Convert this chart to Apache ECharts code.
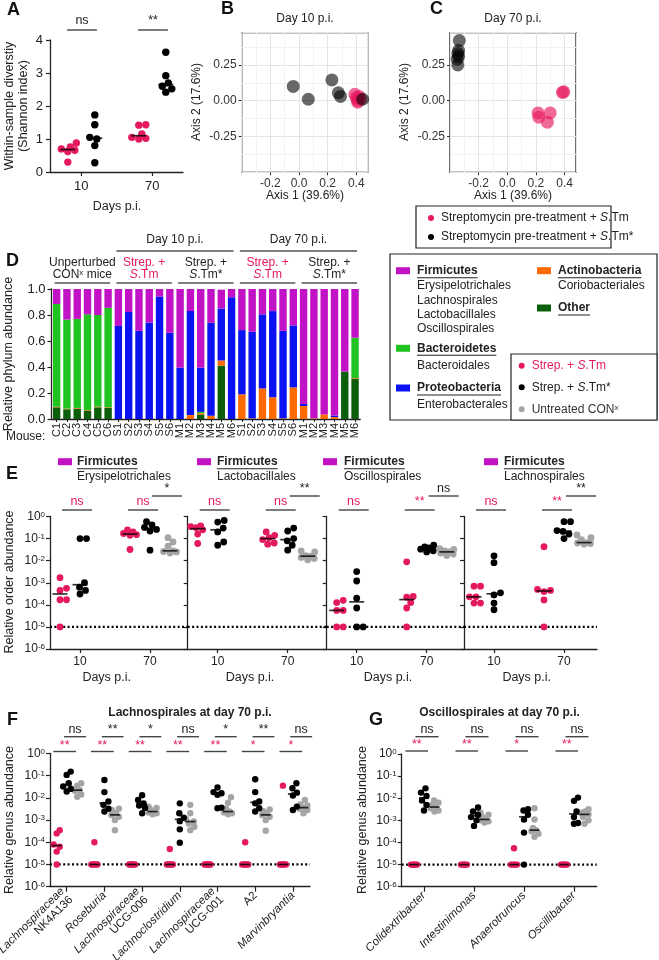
<!DOCTYPE html>
<html><head><meta charset="utf-8">
<script src="https://cdn.jsdelivr.net/npm/echarts@6/dist/echarts.min.js"></script>
<style>html,body{margin:0;padding:0;background:#fff}#c{width:659px;height:960px}</style>
</head><body><div id="c"></div>
<script>
const PINK='#E5195E', GRAY='#A5A5A5', INK='#222';
const FONT='"Liberation Sans", Arial, Helvetica, sans-serif';

// ---------- Panel A : Shannon index ----------
const aDays=['10','70'];
const aPink10=[0.30,0.62,0.66,0.70,0.76,0.88];
const aBlack10=[0.28,0.80,1.00,1.05,1.43,1.73];
const aPink70=[1.00,1.02,1.05,1.15,1.42,1.43];
const aBlack70=[2.42,2.52,2.60,2.70,2.92,3.63];
const aSig=['ns','**'];

// ---------- Panels B / C : PCoA ----------
const bStmX=[0.39,0.41,0.42,0.40,0.43,0.41];
const bStmY=[0.045,0.0,0.03,0.02,0.01,-0.01];
const bStarX=[-0.04,0.065,0.23,0.275,0.29,0.445];
const bStarY=[0.10,0.01,0.145,0.055,0.03,0.01];
const cStmX=[0.385,0.395,0.215,0.30,0.22,0.28];
const cStmY=[0.058,0.062,-0.085,-0.085,-0.115,-0.15];
const cStarX=[-0.335,-0.34,-0.345,-0.34,-0.35,-0.345];
const cStarY=[0.42,0.35,0.33,0.31,0.29,0.25];

// ---------- Panel D : phylum bars ----------
const mouseLabels=['C1','C2','C3','C4','C5','C6','S1','S2','S3','S4','S5','S6','M1','M2','M3','M4','M5','M6','S1','S2','S3','S4','S5','S6','M1','M2','M3','M4','M5','M6'];
const dOther=[0.09,0.075,0.08,0.065,0.09,0.085, 0,0,0,0,0,0, 0,0,0.035,0,0.41,0, 0,0,0,0,0,0, 0,0,0,0,0.365,0.31];
const dActino=[0.005,0.005,0.005,0.005,0.005,0.005, 0,0,0,0,0,0, 0,0.03,0.01,0.025,0.04,0, 0.19,0.005,0.235,0.167,0.005,0.243, 0.10,0.005,0.035,0.015,0,0.005];
const dBacteroidetes=[0.79,0.685,0.685,0.735,0.705,0.765, 0,0,0,0,0,0, 0,0,0.01,0,0,0, 0,0,0,0,0,0, 0,0,0,0,0,0.31];
const dProteo=[0,0,0,0,0,0, 0.716,0.823,0.678,0.742,0.942,0.663, 0.395,0.80,0.34,0.715,0.40,0.937, 0.494,0.666,0.57,0.663,0.673,0.477, 0.015,0,0,0.012,0,0];
const dFirm=[0.115,0.235,0.23,0.195,0.2,0.145, 0.284,0.177,0.322,0.258,0.058,0.337, 0.605,0.17,0.605,0.26,0.145,0.063, 0.316,0.329,0.195,0.17,0.322,0.28, 0.885,0.995,0.965,0.973,0.635,0.375];

// ---------- Panel E : order abundance ----------
const eOrders=['Erysipelotrichales','Lactobacillales','Oscillospirales','Lachnospirales'];
const ePink10=[[1e-5,1.7e-4,1.7e-4,4.5e-4,5.6e-4,1.7e-3],[0.06,0.16,0.25,0.31,0.35,0.38],[1e-5,1e-5,5.6e-5,5.6e-5,1.26e-4,1.6e-4],[1.2e-4,1.2e-4,2.3e-4,2.3e-4,7e-4,7e-4]];
const eBlack10=[[3.1e-4,4.5e-4,6.3e-4,1.0e-3,0.1,0.1],[0.05,0.07,0.2,0.3,0.56,0.66],[1e-5,1e-5,7.2e-5,2.0e-4,1.2e-3,3.2e-3],[6e-5,1.2e-4,2.8e-4,3.5e-4,8.1e-3,0.0166]];
const ePink70=[[0.032,0.14,0.15,0.17,0.2,0.25],[0.056,0.063,0.09,0.11,0.14,0.2],[1e-5,7.2e-5,1.26e-4,2.2e-4,2.4e-4,8.9e-3],[1e-5,1.66e-4,4e-4,4.5e-4,5e-4,0.043]];
const eBlack70=[[0.03,0.22,0.26,0.32,0.42,0.58],[0.03,0.05,0.079,0.1,0.22,0.3],[0.025,0.028,0.033,0.038,0.042,0.05],[0.1,0.16,0.21,0.23,0.58,0.58]];
const eGray70=[[0.022,0.025,0.026,0.028,0.045,0.07,0.11],[0.011,0.0126,0.014,0.016,0.017,0.025,0.028],[0.017,0.02,0.022,0.025,0.028,0.032,0.035],[0.056,0.06,0.063,0.066,0.089,0.11,0.145]];
const eSigDay10=['ns','ns','ns','ns'];
const eSigPink70=['ns','ns','**','**'];
const eSigBlack70=['*','**','ns','**'];

// ---------- Panel F : Lachnospirales genera ----------
const fGenera=['Lachnospiraceae NK4A136','Roseburia','Lachnospiraceae UCG-006','Lachnoclostridium','Lachnospiraceae UCG-001','A2','Marvinbryantia'];
const fPink=[[1e-5,3.8e-5,6.3e-5,7.9e-5,2.5e-4,3.5e-4],[1e-5,1e-5,1e-5,1e-5,1e-5,1e-4],[1e-5,1e-5,1e-5,1e-5,1e-5,1e-5],[1e-5,1e-5,1e-5,1e-5,1e-5,5e-5],[1e-5,1e-5,1e-5,1e-5,1e-5,1e-5],[1e-5,1e-5,1e-5,1e-5,1e-5,1e-4],[1e-5,1e-5,1e-5,1e-5,1e-5,0.035]];
const fBlack=[[0.019,0.025,0.032,0.045,0.107,0.15],[0.0024,0.0032,0.0048,0.0068,0.018,0.063],[0.002,0.0035,0.0045,0.0056,0.008,0.013],[9.5e-5,3.8e-4,8.9e-4,1.26e-3,2e-3,5.6e-3],[3.4e-3,3.6e-3,0.0135,0.016,0.018,0.029],[2.4e-3,3.4e-3,5.6e-3,6.8e-3,0.018,0.068],[2.8e-3,4e-3,0.0126,0.017,0.027,0.045]];
const fGray=[[0.011,0.014,0.02,0.022,0.025,0.035,0.045],[3.5e-4,1e-3,1.4e-3,1.7e-3,2e-3,2.8e-3,3.2e-3],[1.8e-3,2e-3,2.2e-3,2.4e-3,2.8e-3,3.5e-3,4e-3],[3.5e-4,5e-4,7e-4,8.5e-4,1.1e-3,2e-3,4.8e-3],[1.8e-3,2e-3,2.2e-3,2.4e-3,3.2e-3,6e-3,0.0105],[3.3e-4,1e-3,1.4e-3,1.7e-3,2e-3,2.5e-3,3e-3],[2e-3,2.8e-3,3.2e-3,3.6e-3,4.5e-3,5e-3,8e-3]];
const fSigPink=['**','**','**','**','**','*','*'];
const fSigBlack=['ns','**','*','ns','*','**','ns'];

// ---------- Panel G : Oscillospirales genera ----------
const gGenera=['Colidextribacter','Intestinimonas','Anaerotruncus','Oscillibacter'];
const gPink=[[1e-5,1e-5,1e-5,1e-5,1e-5,1e-5],[1e-5,1e-5,1e-5,1e-5,1e-5,1e-5],[1e-5,1e-5,1e-5,1e-5,1e-5,5.5e-5],[1e-5,1e-5,1e-5,1e-5,1e-5,1e-5]];
const gBlack=[[2.8e-3,5e-3,8e-3,0.0126,0.018,0.028],[5.6e-4,1e-3,1.4e-3,1.8e-3,2.5e-3,3.8e-3],[1e-5,2.8e-4,1.1e-3,1.8e-3,2.8e-3,3.2e-3],[7e-4,7.6e-4,1.4e-3,2.5e-3,7.6e-3,0.0107]];
const gGray=[[2.5e-3,2.8e-3,3.5e-3,4e-3,5e-3,6.3e-3,8e-3],[8e-4,9e-4,1e-3,1.1e-3,1.4e-3,1.8e-3,2.2e-3],[1.8e-4,2.5e-4,3.2e-4,3.6e-4,4.5e-4,1.1e-3,3.5e-3],[7e-4,1e-3,1.4e-3,1.86e-3,2.2e-3,2.5e-3,3.2e-3]];
const gSigPink=['**','**','*','**'];
const gSigBlack=['ns','ns','ns','ns'];
const detectionLimit=1e-5;

// ================= helpers =================
function median(a){const s=[...a].sort((x,y)=>x-y);const n=s.length;return n%2?s[(n-1)/2]:(s[n/2-1]+s[n/2])/2;}
function swarm(vals,toPx,r,maxOff){
  const order=vals.map((v,i)=>i).sort((a,b)=>vals[a]-vals[b]);
  const cands=[0];for(let d=0.5;d<=maxOff+1e-9;d+=0.5){cands.push(d,-d);}
  const placed=[],out=new Array(vals.length),minD=2*r*0.95;
  for(const i of order){
    const y=toPx(vals[i]);let chosen=null,bx=0,bs=-1;
    for(const c of cands){let md=Infinity;for(const p of placed){const dd=Math.hypot(p.x-c,p.y-y);if(dd<md)md=dd;}
      if(md>=minD){chosen=c;break;} if(md>bs){bs=md;bx=c;}}
    if(chosen===null)chosen=bx;placed.push({x:chosen,y});out[i]=chosen;
  }
  return out;
}
const logPx=H=>v=>(Math.log10(v)+6)/6*H;

const series=[];
function addScatter(gi,color,data,size,z){series.push({type:'scatter',xAxisIndex:gi,yAxisIndex:gi,data,symbolSize:size,itemStyle:{color,opacity:1},z:z||3,silent:true});}
function addMed(gi,data,w){series.push({type:'scatter',xAxisIndex:gi,yAxisIndex:gi,data,symbol:'rect',symbolSize:[w,1.7],itemStyle:{color:'#000'},z:6,silent:true});}
function addRef(gi,xmin,xmax){series.push({type:'line',xAxisIndex:gi,yAxisIndex:gi,data:[[xmin,detectionLimit],[xmax,detectionLimit]],
  symbol:'none',z:2,silent:true,lineStyle:{type:[2,2.4],width:2.2,color:'#000'}});}
function grp(acc,meds,center,vals,toPx,ppu,r,maxOff){const o=swarm(vals,toPx,r,maxOff);vals.forEach((v,i)=>acc.push([center+o[i]/ppu,v]));meds.push([center,median(vals)]);}

const axLine={show:true,onZero:false,lineStyle:{color:INK,width:1.3}};
const axTick={show:true,length:4,lineStyle:{color:INK,width:1.2}};
const lbl=(o)=>Object.assign({color:INK,fontSize:12,fontFamily:FONT},o||{});
const logLabel=(show)=>({show,color:INK,fontFamily:FONT,margin:5,
  formatter:v=>'{b|10}{s|'+Math.round(Math.log10(v))+'}',
  rich:{b:{fontSize:12,fontFamily:FONT,color:INK},s:{fontSize:8,fontFamily:FONT,color:INK,verticalAlign:'top'}}});

const grids=[],xAxes=[],yAxes=[];
// ---- A (0)
{
  const L=50,T=40,W=133,H=132,ppu=71,min=1-31.3/71;
  grids.push({left:L,top:T,width:W,height:H});
  xAxes.push({gridIndex:0,type:'value',min,max:min+W/ppu,axisLine:axLine,splitLine:{show:false},
    axisTick:Object.assign({},axTick,{customValues:[1,2]}),
    axisLabel:lbl({fontSize:13,margin:8,customValues:[1,2],formatter:v=>aDays[Math.round(v)-1]})});
  yAxes.push({gridIndex:0,type:'value',min:0,max:4,interval:1,axisLine:axLine,axisTick:axTick,splitLine:{show:false},axisLabel:lbl({fontSize:13,margin:7})});
  const toPx=v=>v/4*H;const p=[],b=[],m=[];
  grp(p,m,1-0.19,aPink10,toPx,ppu,3.6,9);grp(b,m,1+0.19,aBlack10,toPx,ppu,3.6,9);
  grp(p,m,2-0.19,aPink70,toPx,ppu,3.6,9);grp(b,m,2+0.19,aBlack70,toPx,ppu,3.6,9);
  addScatter(0,PINK,p,7.4);addScatter(0,'#000',b,7.4);addMed(0,m,15);
}
// ---- B (1), C (2)
function pcoa(gi,L,sx,sy,kx,ky){
  grids.push({left:L,top:32.7,width:126,height:139.6,show:true,borderColor:'#111',borderWidth:1.2,backgroundColor:'#fff'});
  xAxes.push({gridIndex:gi,type:'value',min:-0.4,max:0.48,interval:0.2,axisLine:{show:false,onZero:false},
    axisTick:{show:true,length:3,lineStyle:{color:'#333'}},
    axisLabel:lbl({margin:5,color:'#333',showMinLabel:false,showMaxLabel:false,formatter:v=>(v<-0.35||v>0.45)?'':v.toFixed(1)}),
    splitLine:{show:true,lineStyle:{color:'#E4E4E4',width:1}},minorTick:{show:false,splitNumber:2},minorSplitLine:{show:true,lineStyle:{color:'#F2F2F2',width:1}}});
  yAxes.push({gridIndex:gi,type:'value',min:-0.5,max:0.475,interval:0.25,axisLine:{show:false,onZero:false},
    axisTick:{show:true,length:3,lineStyle:{color:'#333'}},
    axisLabel:lbl({margin:5,color:'#333',showMinLabel:false,showMaxLabel:false,formatter:v=>(v<-0.45||v>0.3)?'':v.toFixed(2)}),
    splitLine:{show:true,lineStyle:{color:'#E4E4E4',width:1}},minorTick:{show:false,splitNumber:2},minorSplitLine:{show:true,lineStyle:{color:'#F2F2F2',width:1}}});
  series.push({type:'scatter',xAxisIndex:gi,yAxisIndex:gi,data:sx.map((x,i)=>[x,sy[i]]),symbolSize:13,itemStyle:{color:'rgba(232,22,96,0.8)'},z:3,silent:true});
  series.push({type:'scatter',xAxisIndex:gi,yAxisIndex:gi,data:kx.map((x,i)=>[x,ky[i]]),symbolSize:13,itemStyle:{color:'rgba(0,0,0,0.74)'},z:4,silent:true});
}
pcoa(1,241.7,bStmX,bStmY,bStarX,bStarY);
pcoa(2,450,cStmX,cStmY,cStarX,cStarY);
// ---- D (3)
grids.push({left:51.5,top:289,width:308.7,height:130});
xAxes.push({gridIndex:3,type:'category',data:mouseLabels.map((m,i)=>i+':'+m),axisLine:axLine,
  axisTick:{show:true,alignWithLabel:true,length:3,lineStyle:{color:INK}},
  axisLabel:lbl({fontSize:11,rotate:90,interval:0,margin:4,formatter:v=>v.split(':')[1]})});
yAxes.push({gridIndex:3,type:'value',min:0,max:1,interval:0.2,axisLine:axLine,axisTick:axTick,splitLine:{show:false},axisLabel:lbl({fontSize:13,margin:6,formatter:v=>v.toFixed(1)})});
[[dOther,'#0B5F0B'],[dActino,'#FF6A00'],[dBacteroidetes,'#20C420'],[dProteo,'#0A12F2'],[dFirm,'#C212C6']].forEach(([d,c])=>{
  series.push({type:'bar',xAxisIndex:3,yAxisIndex:3,stack:'p',data:d,barWidth:7.4,itemStyle:{color:c},silent:true,z:2});
});
// ---- E (4..7)
const eL=[50,187.7,326.7,464],eW=[137.7,139,137.3,133],eT=516.5,eH=132.5;
for(let p=0;p<4;p++){
  const gi=4+p,ppu=20,xmax=-1.5+eW[p]/ppu;
  grids.push({left:eL[p],top:eT,width:eW[p],height:eH});
  xAxes.push({gridIndex:gi,type:'value',min:-1.5,max:xmax,axisLine:axLine,splitLine:{show:false},
    axisTick:Object.assign({},axTick,{customValues:[0,3.5]}),
    axisLabel:lbl({margin:7,customValues:[0,3.5],formatter:v=>v<1?'10':'70'})});
  yAxes.push({gridIndex:gi,type:'log',logBase:10,min:1e-6,max:1,interval:1,axisLine:axLine,axisTick:axTick,splitLine:{show:false},axisLabel:logLabel(p===0)});
  const toPx=logPx(eH),pk=[],bk=[],gy=[],m=[];
  grp(pk,m,-1,ePink10[p],toPx,ppu,3.4,7);grp(bk,m,0,eBlack10[p],toPx,ppu,3.4,7);
  grp(pk,m,2.5,ePink70[p],toPx,ppu,3.4,7);grp(bk,m,3.5,eBlack70[p],toPx,ppu,3.4,7);grp(gy,m,4.5,eGray70[p],toPx,ppu,3.4,7);
  addRef(gi,-1.5,xmax);addScatter(gi,GRAY,gy,6.8);addScatter(gi,PINK,pk,6.8);addScatter(gi,'#000',bk,6.8);addMed(gi,m,15);
}
// ---- F (8), G (9)
function genusLabel(name){
  if(name.indexOf('Lachnospiraceae ')===0)return '{i|Lachnospiraceae}\n{n|'+name.slice(16)+'}';
  if(name==='A2')return '{n|A2}';
  return '{i|'+name+'}';
}
function genusPanel(gi,L,T,W,H,ppu,off0,names,P,B,Gr){
  grids.push({left:L,top:T,width:W,height:H});
  const cv=names.map((n,i)=>i),min=-off0/ppu,max=min+W/ppu;
  xAxes.push({gridIndex:gi,type:'value',min,max,axisLine:axLine,splitLine:{show:false},
    axisTick:Object.assign({},axTick,{length:5,customValues:cv}),
    axisLabel:{show:true,customValues:cv,rotate:45,margin:7,color:INK,fontFamily:FONT,lineHeight:12,
      formatter:v=>genusLabel(names[Math.round(v)]),
      rich:{i:{fontSize:11.5,fontStyle:'italic',fontFamily:FONT,color:INK,lineHeight:12},n:{fontSize:11.5,fontFamily:FONT,color:INK,lineHeight:12}}}});
  yAxes.push({gridIndex:gi,type:'log',logBase:10,min:1e-6,max:1,interval:1,axisLine:axLine,axisTick:axTick,splitLine:{show:false},axisLabel:logLabel(true)});
  const toPx=logPx(H),pk=[],bk=[],gy=[],m=[];
  const po=10/ppu, go=10.5/ppu;
  for(let k=0;k<names.length;k++){
    grp(pk,m,k-po,P[k],toPx,ppu,3.2,3);
    grp(bk,m,k,B[k],toPx,ppu,3.2,4);
    grp(gy,m,k+go,Gr[k],toPx,ppu,3.2,4);
  }
  addRef(gi,min,max);addScatter(gi,GRAY,gy,6.4);addScatter(gi,PINK,pk,6.4);addScatter(gi,'#000',bk,6.4);addMed(gi,m,10);
}
genusPanel(8,50,753.3,260,133.4,37.7,16.7,fGenera,fPink,fBlack,fGray);
genusPanel(9,401.7,754,195,132.7,50,22.3,gGenera,gPink,gBlack,gGray);

grids.forEach(g=>{g.outerBoundsMode='none';g.containLabel=false;});

const chart=echarts.init(document.getElementById('c'),null,{renderer:'canvas',width:659,height:960});
chart.setOption({animation:false,backgroundColor:'#fff',textStyle:{fontFamily:FONT},grid:grids,xAxis:xAxes,yAxis:yAxes,series});

// ================= graphics (text / legends / annotations) =================
const GR=[];
const mctx=document.createElement('canvas').getContext('2d');
function tw(t,f){mctx.font=f;return mctx.measureText(t).width;}
function fnt(size,bold,italic){return (italic?'italic ':'')+(bold?'bold ':'')+size+'px '+FONT;}
function txt(x,y,text,o){o=o||{};const al=o.align||'left';
  GR.push({type:'text',x,y,rotation:o.rot||0,z:100,silent:true,
    style:{text,x:0,y:0,font:fnt(o.size||12,o.bold,o.italic),fill:o.color||INK,align:al,textAlign:al,verticalAlign:'middle',textVerticalAlign:'middle',rich:o.rich}});}
function ln(x1,y1,x2,y2,c,w){GR.push({type:'line',z:100,silent:true,shape:{x1,y1,x2,y2},style:{stroke:c||'#333',lineWidth:w||1.3}});}
function rc(x,y,w,h,fill,stroke,z){GR.push({type:'rect',z:z||90,silent:true,shape:{x,y,width:w,height:h},style:{fill:fill||'none',stroke:stroke||null,lineWidth:1.2}});}
function dot(cx,cy,r,fill){GR.push({type:'circle',z:101,silent:true,shape:{cx,cy,r},style:{fill}});}
function uText(x,y,t,size){txt(x,y,t,{bold:true,size});ln(x,y+7,x+tw(t,fnt(size,true)),y+7,INK,1.1);}
const rich=(c,s)=>({n:{fontFamily:FONT,fontSize:s,fill:c,color:c},i:{fontFamily:FONT,fontSize:s,fontStyle:'italic',fill:c,color:c},
  sup:{fontFamily:FONT,fontSize:Math.round(s*0.65),fill:c,color:c,verticalAlign:'top'}});

// panel letters
[['A',7,10],['B',221,9],['C',430,9],['D',6,261],['E',6,474],['F',7,720],['G',369,720]].forEach(([t,x,y])=>txt(x,y,t,{bold:true,size:18,color:'#111'}));

// A
txt(10,106,'Within-sample diverstiy',{rot:Math.PI/2,align:'center',size:12.5});
txt(23.5,106,'(Shannon index)',{rot:Math.PI/2,align:'center',size:12.5});
txt(117,207,'Days p.i.',{align:'center',size:12.5});
// B, C
txt(305,19,'Day 10 p.i.',{align:'center'});txt(513,19,'Day 70 p.i.',{align:'center'});
txt(305,196,'Axis 1 (39.6%)',{align:'center'});txt(513,196,'Axis 1 (39.6%)',{align:'center'});
txt(197,102,'Axis 2 (17.6%)',{rot:Math.PI/2,align:'center'});txt(405,102,'Axis 2 (17.6%)',{rot:Math.PI/2,align:'center'});
rc(416,206,195,42,'#fff','#222',80);
dot(431,218,3,PINK);dot(431,237,3,'#000');
txt(441,218,'{n|Streptomycin pre-treatment + }{i|S}{n|.Tm}',{rich:rich(INK,12)});
txt(441,237,'{n|Streptomycin pre-treatment + }{i|S}{n|.Tm*}',{rich:rich(INK,12)});

// D
txt(9,354,'Relative phylum abundance',{rot:Math.PI/2,align:'center',size:12.5});
txt(6,437,'Mouse:',{size:12});
const cx=i=>51.5+(i+0.5)*308.7/30;
function hdr(i0,i1,l1,l2,color){const a=cx(i0)-2,b=cx(i1)+2,m=(a+b)/2;
  txt(m,263,l1,{align:'center',color,rich:rich(color,12)});txt(m,275,l2,{align:'center',color,rich:rich(color,12)});ln(a,283,b,283,'#555',1.3);}
hdr(0,5,'{n|Unperturbed}','{n|CON}{sup|x}{n| mice}',INK);
hdr(6,11,'{n|Strep. +}','{i|S}{n|.Tm}',PINK);
hdr(12,17,'{n|Strep. +}','{i|S}{n|.Tm*}',INK);
hdr(18,23,'{n|Strep. +}','{i|S}{n|.Tm}',PINK);
hdr(24,29,'{n|Strep. +}','{i|S}{n|.Tm*}',INK);
[[6,17,'Day 10 p.i.'],[18,29,'Day 70 p.i.']].forEach(([i0,i1,t])=>{const a=cx(i0)-2,b=cx(i1)+2;txt((a+b)/2,240,t,{align:'center'});ln(a,251,b,251,'#555',1.3);});
// D legend
rc(390,254,267,166,'#fff','#222',80);
rc(396,267.2,14,7,'#C212C6');uText(417,270.7,'Firmicutes',12);
['Erysipelotrichales','Lachnospirales','Lactobacillales','Oscillospirales'].forEach((t,i)=>txt(417,[286,300.5,314.5,328.5][i],t));
rc(396,344.8,14,7,'#20C420');uText(417,348.3,'Bacteroidetes',12);txt(417,366,'Bacteroidales');
rc(396,384.5,14,7,'#0A12F2');uText(417,388,'Proteobacteria',12);txt(417,405,'Enterobacterales');
rc(537,267.2,14,7,'#FF6A00');uText(558,270.7,'Actinobacteria',12);txt(558,286,'Coriobacteriales');
rc(537,304.5,14,7,'#0B5F0B');uText(558,308,'Other',12);
rc(511,354,146,66,'#fff','#222',95);
dot(521.7,365.7,3,PINK);txt(531.7,365.7,'{n|Strep. + }{i|S}{n|.Tm}',{rich:rich(PINK,12)});
dot(521.7,387.3,3,'#000');txt(531.7,387.3,'{n|Strep. + }{i|S}{n|.Tm*}',{rich:rich(INK,12)});
dot(521.7,409.3,3,GRAY);txt(531.7,409.3,'{n|Untreated CON}{sup|x}',{rich:rich('#333',12)});

// E
txt(10,582,'Relative order abundance',{rot:Math.PI/2,align:'center',size:12.5});
const sqX=[58,197,323,484],txX=[77,217,344,504];
for(let p=0;p<4;p++){rc(sqX[p],458.2,14,7,'#C212C6');uText(txX[p],461.7,'Firmicutes',12);txt(txX[p],476.7,eOrders[p],{size:12});}
[106.7,250,388,526.7].forEach(x=>txt(x,678,'Days p.i.',{align:'center',size:12.5}));

// F, G
txt(190,713,'Lachnospirales at day 70 p.i.',{align:'center',bold:true,size:12});
txt(499.5,713,'Oscillospirales at day 70 p.i.',{align:'center',bold:true,size:12});
txt(10,820,'Relative genus abundance',{rot:Math.PI/2,align:'center',size:12.5});
txt(363,820,'Relative genus abundance',{rot:Math.PI/2,align:'center',size:12.5});

// significance annotations, placed through the axes
function sig(ax,x1,x2,yl,yt,t,c){const X=v=>chart.convertToPixel({xAxisIndex:ax},v);const a=X(x1),b=X(x2);
  ln(a,yl,b,yl,'#444',1.4);txt((a+b)/2,yt,t,{align:'center',color:c,size:12.5});}
sig(0,0.8,1.22,30,20.5,aSig[0],INK);sig(0,1.8,2.22,30,20.5,aSig[1],INK);
for(let p=0;p<4;p++){sig(4+p,-0.9,0.6,510,501.5,eSigDay10[p],PINK);sig(4+p,2.4,3.9,510,501.5,eSigPink70[p],PINK);sig(4+p,3.6,5.1,496,489,eSigBlack70[p],INK);}
for(let k=0;k<fGenera.length;k++){sig(8,k-0.355,k+0.247,751.5,745.5,fSigPink[k],PINK);sig(8,k-0.07,k+0.51,736.7,729.5,fSigBlack[k],INK);}
for(let k=0;k<gGenera.length;k++){sig(9,k-0.37,k+0.08,751,745,gSigPink[k],PINK);sig(9,k-0.17,k+0.29,736.7,729.5,gSigBlack[k],INK);}

chart.setOption({graphic:GR});
</script></body></html>
